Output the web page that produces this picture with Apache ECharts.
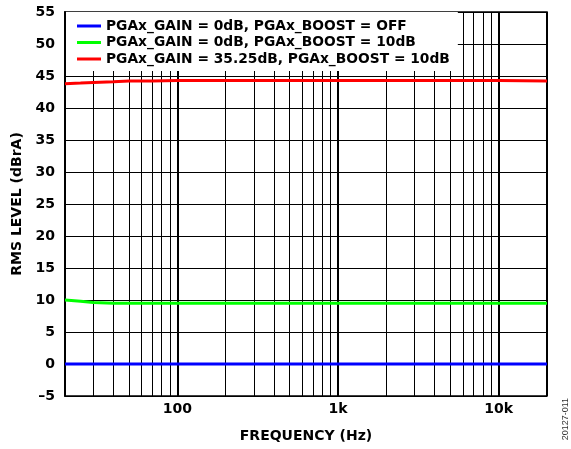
<!DOCTYPE html>
<html><head><meta charset="utf-8">
<script src="https://cdn.jsdelivr.net/npm/echarts@6/dist/echarts.min.js"></script>
<style>html,body{margin:0;padding:0;background:#fff}#c{width:571px;height:449px}</style>
</head><body><div id="c"></div>
<script>
const freqs = [20, 25, 30, 40, 50, 70, 100, 200, 500, 1000, 2000, 5000, 10000, 20000];
const seriesNames = ['PGAx_GAIN = 0dB, PGAx_BOOST = OFF', 'PGAx_GAIN = 0dB, PGAx_BOOST = 10dB', 'PGAx_GAIN = 35.25dB, PGAx_BOOST = 10dB'];
const blueVals = [0, 0, 0, 0, 0, 0, 0, 0, 0, 0, 0, 0, 0, 0];
const greenVals = [10.0, 9.8, 9.6, 9.5, 9.5, 9.5, 9.5, 9.5, 9.5, 9.5, 9.5, 9.5, 9.5, 9.5];
const redVals = [43.8, 43.9, 44.0, 44.1, 44.2, 44.2, 44.3, 44.3, 44.3, 44.3, 44.3, 44.3, 44.3, 44.2];
const minorFreqs = [30, 40, 50, 60, 70, 80, 90, 200, 300, 400, 500, 600, 700, 800, 900, 2000, 3000, 4000, 5000, 6000, 7000, 8000, 9000];
const xTickLabels = {100: '100', 1000: '1k', 10000: '10k'};

const font = '"DejaVu Sans", sans-serif';
const colors = ['#0000ff', '#00ff00', '#ff0000'];
const vals = [blueVals, greenVals, redVals];
const chart = echarts.init(document.getElementById('c'), null, {renderer: 'canvas'});
const series = vals.map((v, i) => ({
  name: seriesNames[i], type: 'line', symbol: 'none', z: 5,
  data: freqs.map((f, j) => [f, v[j]]),
  lineStyle: {color: colors[i], width: 3}, itemStyle: {color: colors[i]}
}));
series.push({
  type: 'line', data: [], silent: true, z: 1,
  markLine: {silent: true, symbol: 'none', animation: false, label: {show: false},
    lineStyle: {color: '#000', width: 1, type: 'solid'},
    data: minorFreqs.map(f => ({xAxis: f}))}
});
chart.setOption({
  animation: false,
  grid: {left: 65, right: 24, top: 12, bottom: 53, show: true, borderColor: '#000', borderWidth: 1.5, z: 0, outerBoundsMode: 'none', containLabel: false},
  legend: {
    data: seriesNames, orient: 'vertical', left: 66, top: 12,
    backgroundColor: '#fff', padding: [7, 8, 5, 11], itemGap: 2.5,
    itemWidth: 24, itemHeight: 13, z: 10,
    icon: 'path://M0,0 L24,0 L24,3 L0,3 Z',
    textStyle: {fontFamily: font, fontWeight: 'bold', fontSize: 13.8, color: '#000'}
  },
  xAxis: {
    type: 'log', logBase: 10, min: 20, max: 20000,
    name: 'FREQUENCY (Hz)', nameLocation: 'middle', nameGap: 33,
    nameTextStyle: {fontFamily: font, fontWeight: 'bold', fontSize: 14, color: '#000'},
    axisLine: {show: true, lineStyle: {color: '#000', width: 2}},
    axisTick: {show: false},
    axisLabel: {fontFamily: font, fontWeight: 'bold', fontSize: 14, color: '#000', margin: 6,
      formatter: v => xTickLabels[Math.round(v)] || ''},
    splitLine: {show: true, lineStyle: {color: '#000', width: 2}},
    minorSplitLine: {show: false}
  },
  yAxis: {
    type: 'value', min: -5, max: 55, interval: 5,
    name: 'RMS LEVEL (dBrA)', nameLocation: 'middle', nameGap: 40,
    nameTextStyle: {fontFamily: font, fontWeight: 'bold', fontSize: 14, color: '#000'},
    axisLine: {show: true, lineStyle: {color: '#000', width: 2}},
    axisTick: {show: false},
    axisLabel: {fontFamily: font, fontWeight: 'bold', fontSize: 14, color: '#000', margin: 10,
      formatter: v => String(v).replace('-', '\u2013')},
    splitLine: {show: true, lineStyle: {color: '#000', width: 1}}
  },
  graphic: [{
    type: 'text', left: 561, top: 398, rotation: Math.PI / 2,
    style: {text: '20127-011', font: '9px "Liberation Sans", Arial, sans-serif', fill: '#333'}
  }],
  series: series
});
</script></body></html>
